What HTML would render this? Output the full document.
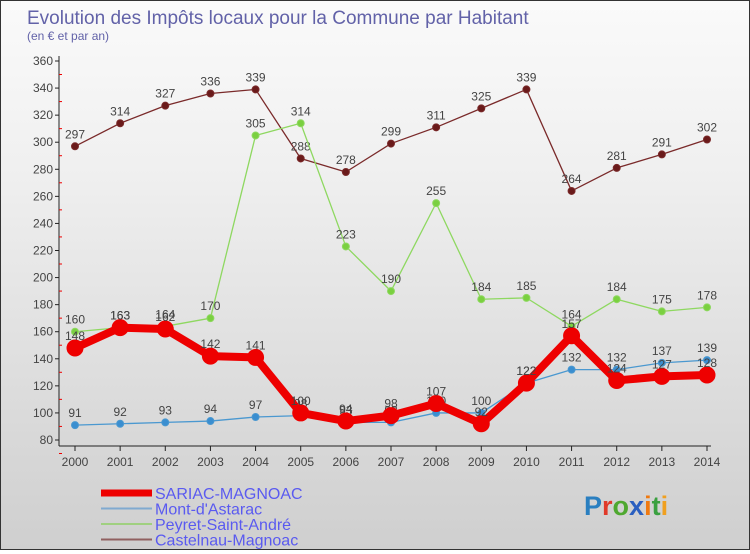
<!DOCTYPE html>
<html><head><meta charset="utf-8"><style>
body{margin:0;width:750px;height:550px;overflow:hidden;font-family:"Liberation Sans",sans-serif}
#wrap{position:relative;width:748px;height:548px;border:1px solid #333;background:linear-gradient(#fafafa,#f0f0f0 30%,#d8d8d8 80%,#cfcfcf)}
</style></head><body>
<div id="wrap">
<svg width="748" height="548" xmlns="http://www.w3.org/2000/svg" font-family="Liberation Sans, sans-serif">
<text x="26" y="23" font-size="19" fill="#6262a8">Evolution des Impôts locaux pour la Commune par Habitant</text>
<text x="26" y="39" font-size="12" fill="#6262a8">(en € et par an)</text>
<g id="axes"></g>
<g id="series"></g>
<g id="legend"></g>
<text x="583" y="514" font-size="27" font-weight="bold"><tspan fill="#2a7fc0">P</tspan><tspan fill="#e03a2a">r</tspan><tspan fill="#4fa830">o</tspan><tspan fill="#2a5fc0">x</tspan><tspan fill="#f07a10">i</tspan><tspan fill="#3aa040">t</tspan><tspan fill="#f0a020">i</tspan></text>
</svg>
</div>
<script>
const years=["2000","2001","2002","2003","2004","2005","2006","2007","2008","2009","2010","2011","2012","2013","2014"];
const yTicks=[80,100,120,140,160,180,200,220,240,260,280,300,320,340,360];
const sariac=[148,163,162,142,141,100,94,98,107,92,122,157,124,127,128];
const mont=[91,92,93,94,97,98,93,93,100,100,122,132,132,137,139];
const peyret=[160,163,164,170,305,314,223,190,255,184,185,164,184,175,178];
const castelnau=[297,314,327,336,339,288,278,299,311,325,339,264,281,291,302];
const NS="http://www.w3.org/2000/svg";
const xs=i=>74+i*(632/14);
const ys=v=>439-(v-80)*(379/280);
function mk(t,a,p){const e=document.createElementNS(NS,t);for(const k in a)e.setAttribute(k,a[k]);p.appendChild(e);return e;}
const ax=document.getElementById('axes');
const yl=mk('line',{x1:58,y1:55,x2:58,y2:445,stroke:'#222'},ax);


const xl=mk('line',{x1:58,y1:445,x2:710,y2:445,stroke:'#222'},ax);


yTicks.forEach(v=>{const y=ys(v);
mk('line',{x1:54,y1:y,x2:58,y2:y,stroke:'#222'},ax);
mk('line',{x1:58,y1:y+13.5,x2:61,y2:y+13.5,stroke:'#e00'},ax);
const t=mk('text',{x:52,y:y+4,'font-size':12,fill:'#444','text-anchor':'end'},ax);t.textContent=v;

});
years.forEach((yr,i)=>{const x=xs(i);
mk('line',{x1:x,y1:445,x2:x,y2:450,stroke:'#222'},ax);
const t=mk('text',{x:x,y:465,'font-size':12,fill:'#444','text-anchor':'middle'},ax);t.textContent=yr;

});
const sg=document.getElementById('series');
function series(d,color,w,r,name,fillDot){
const g=mk('g',{},sg);


const pl=mk('polyline',{points:d.map((v,i)=>xs(i)+','+ys(v)).join(' '),fill:'none',stroke:color,'stroke-width':w,'stroke-linejoin':'round'},g);


d.forEach((v,i)=>{const c=mk('circle',{cx:xs(i),cy:ys(v),r:r,fill:fillDot,stroke:color,'stroke-width':1},g);


const t=mk('text',{x:xs(i),y:ys(v)-8,'font-size':12,fill:'#444','text-anchor':'middle'},g);t.textContent=v;

});}
series(castelnau,'#7a2a2a',1.3,3.5,'castelnau-magnoac','#6a1a1a');
series(peyret,'#8ed860',1.3,3.5,'peyret-saint-andre','#7ad040');
series(mont,'#4a98d0',1.3,3.5,'mont-d-astarac','#3a8ed0');
series(sariac,'#ee0000',8,8,'sariac-magnoac','#ee0000');
const lg=document.getElementById('legend');
[['SARIAC-MAGNOAC','#ee0000',7],['Mont-d\'Astarac','#80aad0',2],['Peyret-Saint-André','#a0d080',2],['Castelnau-Magnoac','#906060',2]].forEach((e,i)=>{
const y=492+i*15.5;
const g=mk('g',{},lg);


mk('line',{x1:100,y1:y,x2:151,y2:y,stroke:e[1],'stroke-width':e[2]},g);
const t=mk('text',{x:154,y:y+6,'font-size':16,fill:'#5a5af0'},g);t.textContent=e[0];});
</script>
</body></html>
